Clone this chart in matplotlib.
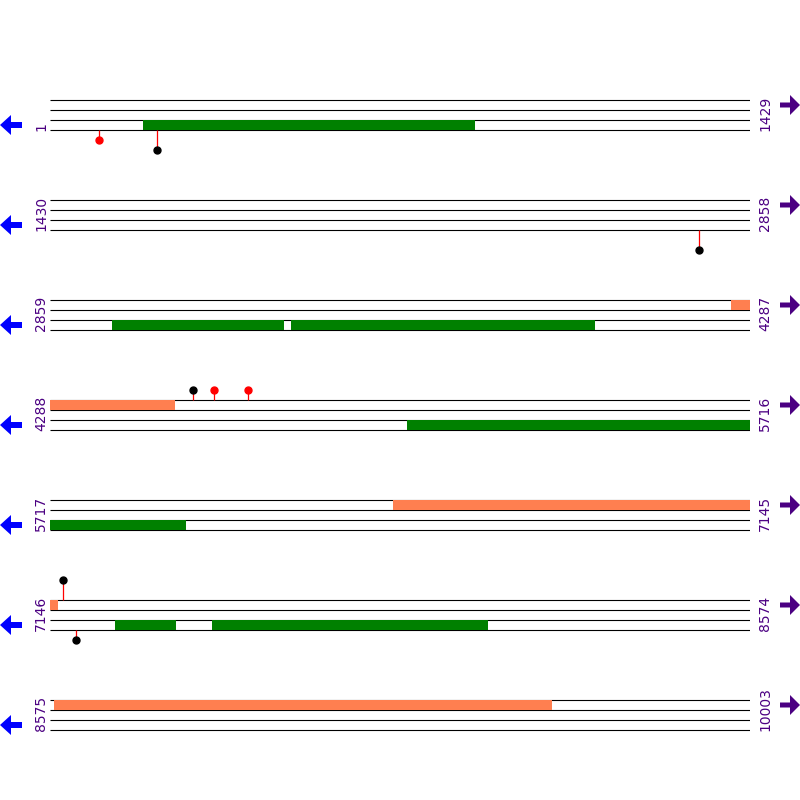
import matplotlib
matplotlib.use('Agg')
import matplotlib.pyplot as plt
from matplotlib.patches import FancyArrow

# ---- data ----
ROW_LEN = 1429
row_starts = [1, 1430, 2859, 4288, 5717, 7146, 8575]
row_ends = [1429, 2858, 4287, 5716, 7145, 8574, 10003]

# forward strand features (orange), reverse strand features (green)
fwd_starts = [4249, 6417, 8583]
fwd_ends = [4543, 7162, 9598]
rev_starts = [191, 2986, 3351, 5017, 7279, 7477]
rev_ends = [868, 3335, 3971, 5993, 7403, 8040]

# lollipop sites
site_pos = [101, 219, 2755, 4580, 4623, 4692, 7173, 7199]
site_side = ['below', 'below', 'below', 'above', 'above', 'above', 'above', 'below']
site_level = [1, 2, 2, 1, 1, 1, 2, 1]
site_color = ['red', 'black', 'black', 'black', 'red', 'red', 'black', 'black']

ORANGE = '#FF7F50'
GREEN = '#008000'
PURPLE = '#4B0082'
BLUE = '#0000FF'

W = H = 800
fig = plt.figure(figsize=(8, 8), dpi=100)
fig.patch.set_facecolor('white')

# background axes in pixel units for arrows and labels
bg = fig.add_axes([0, 0, 1, 1])
bg.set_xlim(0, W)
bg.set_ylim(H, 0)
bg.axis('off')


def clip(s, e, lo, hi):
    return max(s, lo), min(e, hi)


for i, (rs, re_) in enumerate(zip(row_starts, row_ends)):
    y_top = 100 + 100 * i
    # row axes: x in bp, y in pixel offsets from the top line
    ax = fig.add_axes([50 / W, 1 - (y_top + 55) / H, 700 / W, 80 / H])
    ax.set_xlim(rs, rs + ROW_LEN)
    ax.set_ylim(55, -25)
    ax.axis('off')

    for yy in (0, 10, 20, 30):
        ax.hlines(yy, rs, rs + ROW_LEN, color='black', lw=0.8, zorder=1)

    for s, e in zip(fwd_starts, fwd_ends):
        a, b = clip(s, e + 1, rs, rs + ROW_LEN)
        if b > a:
            ax.barh(5, b - a, left=a, height=10, color=ORANGE, lw=0, zorder=2)
    for s, e in zip(rev_starts, rev_ends):
        a, b = clip(s, e + 1, rs, rs + ROW_LEN)
        if b > a:
            ax.barh(25, b - a, left=a, height=10, color=GREEN, lw=0, zorder=2)

    for p, side, lev, c in zip(site_pos, site_side, site_level, site_color):
        if rs <= p <= re_:
            if side == 'above':
                base, tip = 0, -10 * lev
            else:
                base, tip = 30, 30 + 10 * lev
            ax.vlines(p, base, tip, color='red', lw=0.9, zorder=3, clip_on=False)
            ax.plot(p, tip, 'o', color=c, ms=5, mec=c, zorder=4, clip_on=False)

    # strand arrows
    bg.add_patch(FancyArrow(22, y_top + 25, -22, 0, width=6, head_width=20,
                            head_length=11, length_includes_head=True,
                            color=BLUE, lw=0))
    bg.add_patch(FancyArrow(780, y_top + 5, 20, 0, width=5, head_width=20,
                            head_length=10, length_includes_head=True,
                            color=PURPLE, lw=0))

    # position labels
    bg.text(41, y_top + 31, str(rs), rotation=90, rotation_mode='anchor',
            ha='left', va='center', color=PURPLE, fontsize=10)
    bg.text(765, y_top + 31, str(re_), rotation=90, rotation_mode='anchor',
            ha='left', va='center', color=PURPLE, fontsize=10)

fig.savefig('out.png', dpi=100, facecolor='white')
